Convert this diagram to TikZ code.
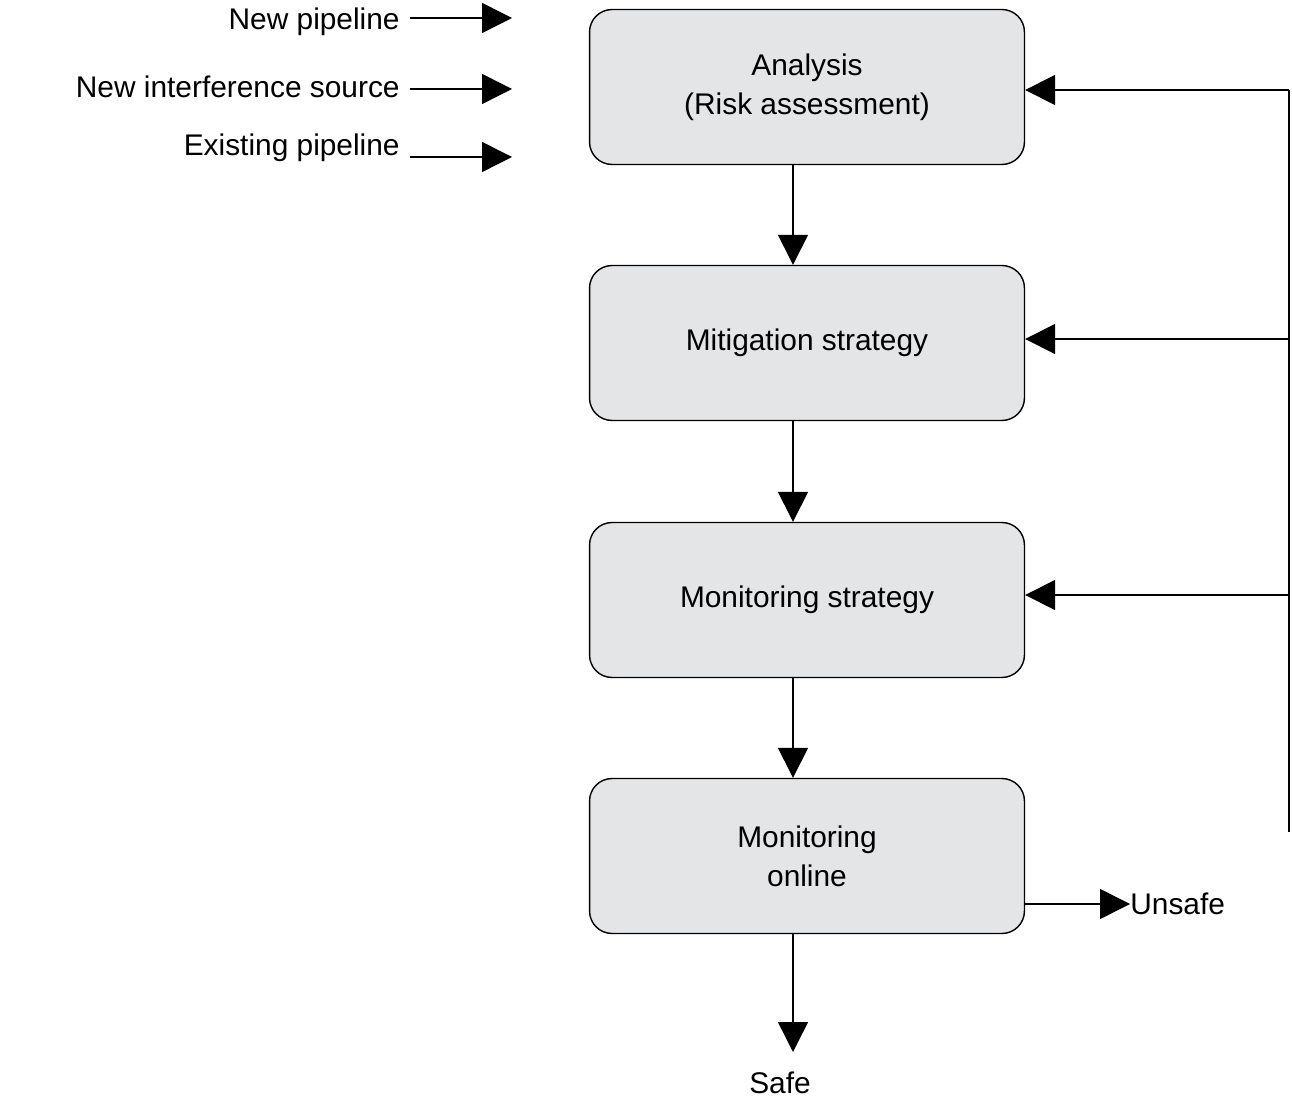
\documentclass[tikz,border=0pt]{standalone}
\usepackage{fontspec}
\setmainfont{Liberation Sans}
\usetikzlibrary{arrows.meta,positioning,calc}
\definecolor{boxgray}{RGB}{228,229,230}
\tikzset{
  stage/.style={draw, thick, fill=boxgray, rounded corners=0.45cm, minimum width=8.7cm, minimum height=3.1cm, align=center, font=\fontsize{17}{22}\selectfont},
  lbl/.style={font=\fontsize{17}{22}\selectfont, inner sep=0pt},
  flow/.style={thick, -{Triangle[length=0.6cm,width=0.6cm]}}
}
\begin{document}
\begin{tikzpicture}[x=0.02cm,y=-0.02cm]
        \useasboundingbox (0,0) rectangle (1292,1104);
        % Process stages
        \node[stage] (analysis) at (807,87) {Analysis\\(Risk assessment)};
        \node[stage] (mitig) at (807,343) {Mitigation strategy};
        \node[stage] (monstr) at (807,600) {Monitoring strategy};
        \node[stage] (online) at (807,856) {Monitoring\\online};
        
        % Downward flow
        \draw[flow] (analysis.south -| 793,0) -- (mitig.north -| 793,0);
        \draw[flow] (mitig.south -| 793,0) -- (monstr.north -| 793,0);
        \draw[flow] (monstr.south -| 793,0) -- (online.north -| 793,0);
        \coordinate (safeend) at (793,1052);
        \draw[flow] (online.south -| 793,0) -- (safeend);
        \node[lbl] (safe) at (780,1083) {Safe};
        
        % Unsafe exit
        \node[lbl, anchor=west] (unsafe) at (1130,904) {Unsafe};
        \draw[flow] (online.east |- unsafe) -- (unsafe.west);
        
        % Feedback loop
        \coordinate (fbtop) at (1289,90);
        \coordinate (fbbot) at (1289,832);
        \draw[thick] (fbbot) -- (fbtop);
        \draw[flow] (fbtop) -- (analysis.east |- fbtop);
        \draw[flow] (1289,339) -- (mitig.east |- 0,339);
        \draw[flow] (1289,595) -- (monstr.east |- 0,595);
        
        % Inputs
        \node[lbl, anchor=east] (newpipe) at (400,22) {New pipeline};
        \node[lbl, anchor=east] (newsrc) at (400,87) {New interference source};
        \node[lbl, anchor=east] (oldpipe) at (400,148) {Existing pipeline};
        \coordinate (in1) at (512,18);
        \coordinate (in2) at (512,89);
        \coordinate (in3) at (512,157);
        \draw[flow] (410,18) -- (in1);
        \draw[flow] (410,89) -- (in2);
        \draw[flow] (410,157) -- (in3);
\end{tikzpicture}
\end{document}
